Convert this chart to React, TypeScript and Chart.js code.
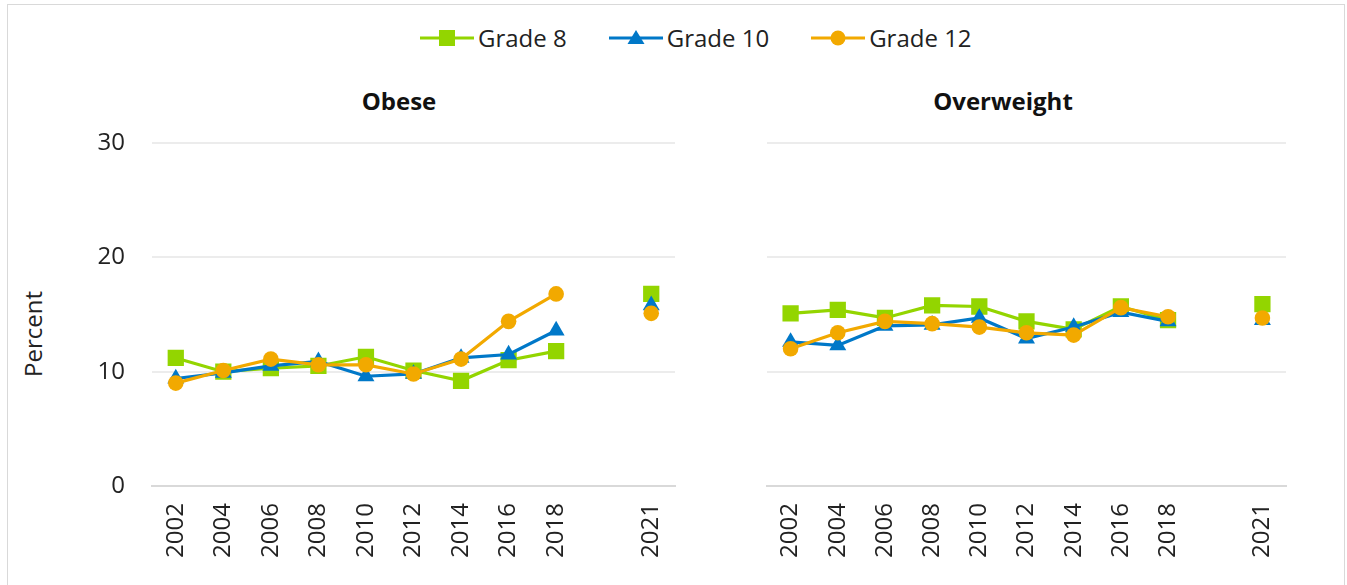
import React, { useEffect, useRef } from 'react';
import { Chart, registerables } from 'chart.js';

Chart.register(...registerables);

// ---- Data ----
const years = ['2002', '2004', '2006', '2008', '2010', '2012', '2014', '2016', '2018', '', '2021'];
const seriesNames = ['Grade 8', 'Grade 10', 'Grade 12'];

const obeseGrade8 = [11.2, 10.0, 10.3, 10.5, 11.3, 10.1, 9.2, 11.0, 11.8, null, 16.8];
const obeseGrade10 = [9.4, 9.9, 10.5, 10.9, 9.6, 9.8, 11.2, 11.5, 13.6, null, 15.8];
const obeseGrade12 = [9.0, 10.1, 11.1, 10.6, 10.6, 9.8, 11.1, 14.4, 16.8, null, 15.1];

const overGrade8 = [15.1, 15.4, 14.7, 15.8, 15.7, 14.4, 13.7, 15.7, 14.5, null, 15.9];
const overGrade10 = [12.6, 12.3, 14.0, 14.1, 14.7, 12.9, 13.9, 15.2, 14.4, null, 14.5];
const overGrade12 = [12.0, 13.4, 14.4, 14.2, 13.9, 13.4, 13.2, 15.6, 14.8, null, 14.7];

const yTicks = [0, 10, 20, 30];
const yAxisTitle = 'Percent';
const panelTitles = ['Obese', 'Overweight'];

// ---- Styles ----
const colors = ['#93D500', '#0078C8', '#F2A900'];
const pointStyles = ['rect', 'triangle', 'circle'];
const pointRadii = [11.5, 9.8, 7.8];
const FONT = '"Open Sans", "Noto Sans", sans-serif';
const TEXT = '#222222';

function makeConfig(
  series: (number | null)[][],
  showY: boolean,
  yWidth: number,
  padTop: number,
  padRight: number
): any {
  return {
    type: 'line',
    data: {
      labels: years,
      datasets: series.map((d, i) => ({
        label: seriesNames[i],
        data: d,
        borderColor: colors[i],
        backgroundColor: colors[i],
        pointBackgroundColor: colors[i],
        pointBorderColor: colors[i],
        pointStyle: pointStyles[i],
        pointRadius: pointRadii[i],
        pointHoverRadius: pointRadii[i],
        pointBorderWidth: 0,
        borderWidth: 3.2,
        order: 2 - i,
        spanGaps: false,
        tension: 0,
        fill: false,
      })),
    },
    options: {
      animation: false,
      responsive: false,
      maintainAspectRatio: false,
      events: [],
      layout: { padding: { top: padTop, right: padRight, bottom: 0, left: 0 } },
      plugins: {
        legend: { display: false },
        tooltip: { enabled: false },
        title: { display: false },
      },
      scales: {
        x: {
          type: 'category',
          offset: true,
          grid: {
            display: true,
            drawOnChartArea: false,
            drawTicks: true,
            tickLength: 17,
            tickColor: 'rgba(0,0,0,0)',
          },
          border: { display: true, color: '#d9d9d9', width: 2 },
          ticks: {
            minRotation: 90,
            maxRotation: 90,
            autoSkip: false,
            padding: 0,
            color: TEXT,
            font: { family: FONT, size: 24 },
          },
          afterFit: (s: any) => {
            s.height = 99;
          },
        },
        y: {
          min: yTicks[0],
          max: yTicks[yTicks.length - 1],
          afterBuildTicks: (s: any) => {
            s.ticks = yTicks.map((v) => ({ value: v }));
          },
          ticks: {
            display: showY,
            padding: 0,
            color: TEXT,
            font: { family: FONT, size: 24 },
          },
          grid: {
            color: '#ececec',
            lineWidth: 2,
            drawTicks: true,
            tickLength: 27,
            tickColor: 'rgba(0,0,0,0)',
          },
          border: { display: false },
          title: { display: false },
          afterFit: (s: any) => {
            s.width = yWidth;
          },
        },
      },
    },
  };
}

function LegendMarker({ i }: { i: number }) {
  const c = colors[i];
  return (
    <svg width={54} height={20} style={{ display: 'block' }}>
      <line x1={0} y1={10} x2={54} y2={10} stroke={c} strokeWidth={3} />
      {i === 0 && <rect x={19} y={2} width={16} height={16} fill={c} />}
      {i === 1 && <polygon points="27,2 35.5,16 18.5,16" fill={c} />}
      {i === 2 && <circle cx={27} cy={10} r={7.5} fill={c} />}
    </svg>
  );
}

export default function App() {
  const leftRef = useRef<HTMLCanvasElement | null>(null);
  const rightRef = useRef<HTMLCanvasElement | null>(null);

  useEffect(() => {
    const c1 = new Chart(
      leftRef.current as HTMLCanvasElement,
      makeConfig([obeseGrade8, obeseGrade10, obeseGrade12], true, 142, 23, 15)
    );
    const c2 = new Chart(
      rightRef.current as HTMLCanvasElement,
      makeConfig([overGrade8, overGrade10, overGrade12], false, 67, 23, 14)
    );
    return () => {
      c1.destroy();
      c2.destroy();
    };
  }, []);

  const titleStyle: React.CSSProperties = {
    position: 'absolute',
    top: 85,
    width: 300,
    textAlign: 'center',
    fontFamily: FONT,
    fontWeight: 700,
    fontSize: 24,
    lineHeight: '32px',
    color: '#111',
  };

  return (
    <div style={{ position: 'absolute', left: 0, top: 0, width: 1347, height: 585, overflow: 'hidden', background: '#fff' }}>
      <div
        style={{
          position: 'absolute',
          left: 7,
          top: 4,
          width: 1338,
          height: 640,
          border: '1px solid #d9d9d9',
          boxSizing: 'border-box',
        }}
      />
      <div
        style={{
          position: 'absolute',
          left: 420,
          top: 21,
          display: 'flex',
          alignItems: 'center',
          fontFamily: FONT,
          fontSize: 24,
          lineHeight: '33px',
          color: TEXT,
          whiteSpace: 'nowrap',
        }}
      >
        {seriesNames.map((n, i) => (
          <div key={n} style={{ display: 'flex', alignItems: 'center', marginRight: i < 2 ? 42 : 0 }}>
            <LegendMarker i={i} />
            <span style={{ marginLeft: 4 }}>{n}</span>
          </div>
        ))}
      </div>
      <div style={{ ...titleStyle, left: 399 - 150 }}>{panelTitles[0]}</div>
      <div style={{ ...titleStyle, left: 1003 - 150 }}>{panelTitles[1]}</div>
      <div
        style={{
          position: 'absolute',
          left: 33 - 75,
          top: 334 - 16,
          width: 150,
          height: 32,
          lineHeight: '32px',
          textAlign: 'center',
          fontFamily: FONT,
          fontSize: 24,
          color: TEXT,
          transform: 'rotate(-90deg)',
        }}
      >
        {yAxisTitle}
      </div>
      <canvas ref={leftRef} width={680} height={465} style={{ position: 'absolute', left: 10, top: 120 }} />
      <canvas ref={rightRef} width={600} height={465} style={{ position: 'absolute', left: 700, top: 120 }} />
    </div>
  );
}
